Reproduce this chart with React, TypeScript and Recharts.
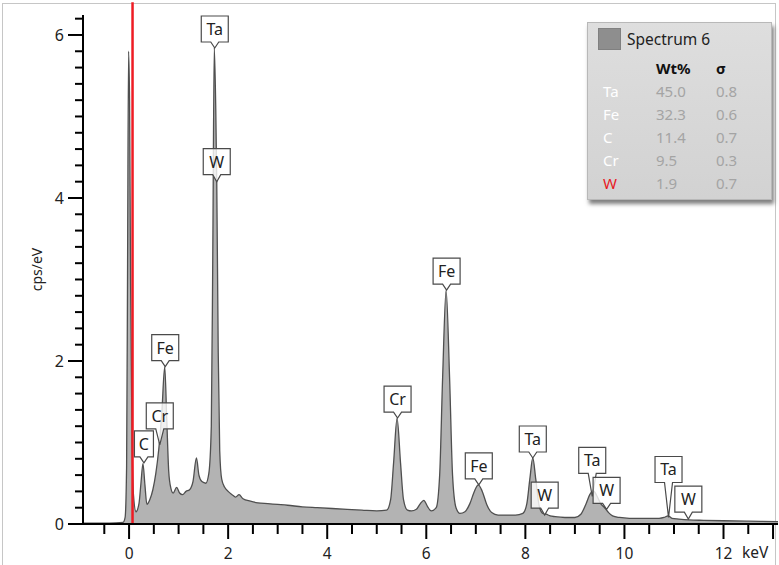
import React from "react";
import {
  ComposedChart,
  Area,
  Scatter,
  XAxis,
  YAxis,
  ReferenceLine,
  Label,
} from "recharts";

// spectrum (keV, cps/eV)
const specKev = [
  -0.93, -0.4, -0.12, -0.08, -0.05, -0.03, -0.01, 0.01, 0.03, 0.06, 0.09, 0.14,
  0.2, 0.24, 0.28, 0.32, 0.36, 0.42, 0.48, 0.54, 0.6, 0.66, 0.72, 0.76, 0.8,
  0.84, 0.89, 0.96, 1.02, 1.08, 1.15, 1.22, 1.29, 1.36, 1.41, 1.47, 1.55, 1.61,
  1.66, 1.69, 1.72, 1.75, 1.77, 1.8, 1.83, 1.87, 1.93, 2.0, 2.08, 2.15, 2.22,
  2.3, 2.45, 2.6, 2.8, 3.0, 3.2, 3.5, 3.8, 4.1, 4.4, 4.7, 5.0, 5.2, 5.28, 5.34,
  5.41, 5.48, 5.54, 5.62, 5.7, 5.8, 5.88, 5.95, 6.02, 6.1, 6.2, 6.27, 6.33, 6.4,
  6.47, 6.53, 6.6, 6.68, 6.78, 6.88, 6.97, 7.05, 7.13, 7.22, 7.32, 7.45, 7.6,
  7.8, 7.95, 8.03, 8.09, 8.15, 8.21, 8.28, 8.35, 8.42, 8.5, 8.6, 8.8, 9.0, 9.12,
  9.22, 9.3, 9.37, 9.44, 9.52, 9.6, 9.68, 9.76, 9.9, 10.1, 10.4, 10.7, 10.8,
  10.88, 10.96, 11.1, 11.3, 11.6, 12.0, 12.5, 13.1,
];
const specCps = [
  0.01, 0.01, 0.02, 0.08, 0.7, 3.2, 5.8, 5.2, 3.0, 1.0, 0.35, 0.15,
  0.25, 0.5, 0.74, 0.48, 0.24, 0.3, 0.42, 0.62, 0.92, 1.35, 1.93, 1.3, 0.65,
  0.45, 0.38, 0.45, 0.38, 0.36, 0.4, 0.42, 0.52, 0.81, 0.6, 0.52, 0.5, 0.62,
  1.2, 3.3, 5.85, 5.1, 4.2, 2.1, 0.9, 0.55, 0.45, 0.4, 0.36, 0.33, 0.36,
  0.31, 0.28, 0.26, 0.25, 0.24, 0.23, 0.21, 0.2, 0.19, 0.18, 0.17, 0.16, 0.17, 0.3, 0.75,
  1.3, 0.75, 0.3, 0.17, 0.16, 0.18, 0.25, 0.29, 0.22, 0.16, 0.2, 0.6, 1.8, 2.87,
  1.8, 0.6, 0.2, 0.13, 0.15, 0.25, 0.4, 0.48, 0.4, 0.24, 0.14, 0.11, 0.11,
  0.11, 0.13, 0.25, 0.55, 0.81, 0.55, 0.22, 0.13, 0.12, 0.1, 0.09, 0.08, 0.08, 0.12,
  0.24, 0.36, 0.41, 0.35, 0.25, 0.2, 0.14, 0.1, 0.08, 0.07, 0.07, 0.07, 0.08,
  0.1, 0.07, 0.06, 0.05, 0.045, 0.04, 0.035, 0.03,
];

// peak markers
const peakNames = ["C", "Cr", "Fe", "Ta", "W", "Cr", "Fe", "Fe", "Ta", "W", "Ta", "W", "Ta", "W"];
const peakKev = [0.3, 0.62, 0.73, 1.73, 1.77, 5.42, 6.41, 7.06, 8.15, 8.39, 9.35, 9.64, 10.89, 11.29];
const peakCps = [0.75, 0.97, 1.93, 5.84, 4.2, 1.3, 2.87, 0.48, 0.81, 0.11, 0.34, 0.18, 0.08, 0.06];
// extra pointer length (px) where the tag is pushed up to dodge a neighbour
const tagLift = [0, 10, 0, 0, 1, 0, 0, 0, 0, 1, 17, 0, 29, 1];

const xTicks = [
  -0.5, 0, 0.5, 1, 1.5, 2, 2.5, 3, 3.5, 4, 4.5, 5, 5.5, 6, 6.5, 7, 7.5, 8, 8.5,
  9, 9.5, 10, 10.5, 11, 11.5, 12, 12.5, 13,
];
const xLabels = [0, 2, 4, 6, 8, 10, 12];
const yTicks = [
  0, 0.2, 0.4, 0.6, 0.8, 1, 1.2, 1.4, 1.6, 1.8, 2, 2.2, 2.4, 2.6, 2.8, 3, 3.2,
  3.4, 3.6, 3.8, 4, 4.2, 4.4, 4.6, 4.8, 5, 5.2, 5.4, 5.6, 5.8, 6, 6.2,
];
const yLabels = [0, 2, 4, 6];

// quant table in the legend box
const quantEl = ["Ta", "Fe", "C", "Cr", "W"];
const quantWt = ["45.0", "32.3", "11.4", "9.5", "1.9"];
const quantSigma = ["0.8", "0.6", "0.7", "0.3", "0.7"];

const markerLine = 0.07;

const FONT = '"Noto Sans", "Open Sans", sans-serif';

const spectrum = specKev.map((k, i) => ({ kev: k, cps: specCps[i] }));
const peaks = peakNames.map((n, i) => ({ name: n, kev: peakKev[i], cps: peakCps[i], lift: tagLift[i] }));

function XTick(props: any) {
  const { x, y, payload } = props;
  const v = payload.value;
  const major = xLabels.includes(v) || v === 13;
  return (
    <g>
      <line x1={x} y1={y} x2={x} y2={y + (major ? 15 : 10)} stroke="#000" strokeWidth={2} />
      {xLabels.includes(v) && (
        <text x={x} y={y + 35} textAnchor="middle" fontSize={15.5} fill="#222" fontFamily={FONT}>
          {v}
        </text>
      )}
    </g>
  );
}

function YTick(props: any) {
  const { x, y, payload } = props;
  const v = payload.value;
  const major = yLabels.includes(v);
  const len = major ? 15 : 8;
  return (
    <g>
      <line x1={x - len} y1={y} x2={x} y2={y} stroke="#000" strokeWidth={2} />
      {major && (
        <text x={x - len - 4} y={y + 6} textAnchor="end" fontSize={16} fill="#222" fontFamily={FONT}>
          {v}
        </text>
      )}
    </g>
  );
}

function PeakTag(props: any) {
  const { cx, cy, payload } = props;
  if (cx == null || cy == null) return null;
  const w = payload.name === "C" ? 19 : 27;
  const h = 26;
  const p = 6 + payload.lift;
  const b = cy - p;
  const t = b - h;
  const l = cx - w / 2;
  const r = cx + w / 2;
  const d = `M${l},${t} H${r} V${b} H${cx + 4} L${cx},${cy} L${cx - 4},${b} H${l} Z`;
  return (
    <g>
      <path d={d} fill="#fff" fillOpacity={0.8} stroke="#4a4a4a" strokeWidth={1.2} />
      <text x={cx} y={b - 7} textAnchor="middle" fontSize={16} fill="#222" fontFamily={FONT}>
        {payload.name}
      </text>
    </g>
  );
}

function QuantBox() {
  const cell: React.CSSProperties = { position: "absolute", fontSize: 15, fontFamily: FONT };
  return (
    <div
      style={{
        position: "absolute",
        left: 587,
        top: 22,
        width: 183,
        height: 176,
        background: "linear-gradient(#dedede, #d2d2d2)",
        border: "1px solid #b8b8b8",
        boxShadow: "2px 4px 4px rgba(0,0,0,0.5)",
      }}
    >
      <div style={{ position: "absolute", left: 10, top: 5, width: 21, height: 20, background: "#8e8e8e", border: "1px solid #808080" }} />
      <div style={{ ...cell, left: 39, top: 5, fontSize: 15.5, color: "#222" }}>Spectrum 6</div>
      <div style={{ ...cell, left: 68, top: 35, fontWeight: 700, color: "#111" }}>Wt%</div>
      <div style={{ ...cell, left: 128, top: 35, fontWeight: 700, color: "#111" }}>σ</div>
      {quantEl.map((el, i) => (
        <React.Fragment key={el}>
          <div style={{ ...cell, left: 15, top: 58 + i * 23, color: el === "W" ? "#e8191f" : "#fff" }}>{el}</div>
          <div style={{ ...cell, left: 68, top: 58 + i * 23, color: "#a4a4a4" }}>{quantWt[i]}</div>
          <div style={{ ...cell, left: 128, top: 58 + i * 23, color: "#a4a4a4" }}>{quantSigma[i]}</div>
        </React.Fragment>
      ))}
    </div>
  );
}

export default function App() {
  return (
    <div style={{ position: "fixed", left: 0, top: 0, width: 779, height: 565, background: "#fff", overflow: "hidden" }}>
      <div
        style={{
          position: "absolute",
          left: 2,
          top: 3,
          width: 772,
          height: 600,
          borderLeft: "1px solid #c6c6c6",
          borderTop: "1px solid #c6c6c6",
          borderRight: "1px solid #c6c6c6",
        }}
      />
      <div style={{ position: "absolute", left: 0, top: 0 }}>
        <ComposedChart
          width={779}
          height={565}
          data={spectrum}
          margin={{ top: 15, right: 1, left: 0, bottom: 0 }}
        >
          <XAxis
            dataKey="kev"
            type="number"
            domain={[-0.93, 13.1]}
            allowDataOverflow
            ticks={xTicks}
            interval={0}
            height={41}
            tickSize={0}
            tickMargin={0}
            tickLine={false}
            axisLine={{ stroke: "#000", strokeWidth: 2 }}
            tick={<XTick />}
          >
            <Label
              content={(p: any) => (
                <text x={p.viewBox.x + p.viewBox.width - 36} y={p.viewBox.y + 34} fontSize={15.5} fill="#222" fontFamily={FONT}>
                  keV
                </text>
              )}
            />
          </XAxis>
          <YAxis
            type="number"
            domain={[0, 6.245]}
            allowDataOverflow
            ticks={yTicks}
            interval={0}
            width={83}
            tickSize={0}
            tickMargin={0}
            tickLine={false}
            axisLine={{ stroke: "#000", strokeWidth: 2 }}
            tick={<YTick />}
          >
            <Label
              content={(p: any) => {
                const cx = 38;
                const cy = p.viewBox.y + p.viewBox.height / 2;
                return (
                  <text x={cx} y={cy} transform={`rotate(-90, ${cx}, ${cy})`} textAnchor="middle" dominantBaseline="middle" fontSize={14} fill="#222" fontFamily={FONT}>
                    cps/eV
                  </text>
                );
              }}
            />
          </YAxis>
          <Area
            type="monotone"
            dataKey="cps"
            stroke="#4f4f4f"
            strokeWidth={1.3}
            fill="#b3b3b3"
            fillOpacity={1}
            isAnimationActive={false}
            dot={false}
            activeDot={false}
          />
          <ReferenceLine
            segment={[{ x: markerLine, y: 0 }, { x: markerLine, y: 6.4 }]}
            stroke="#ee1c24"
            strokeWidth={2.5}
            ifOverflow="visible"
          />
          <Scatter data={peaks} dataKey="cps" isAnimationActive={false} shape={<PeakTag />} />
        </ComposedChart>
      </div>
      <QuantBox />
    </div>
  );
}
